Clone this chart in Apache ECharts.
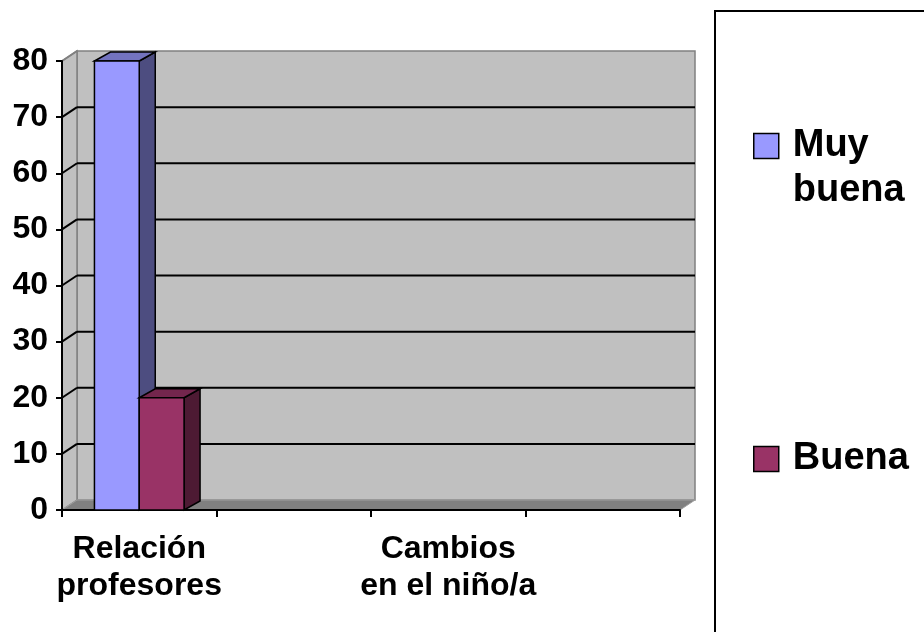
<!DOCTYPE html>
<html><head><meta charset="utf-8">
<script src="https://cdn.jsdelivr.net/npm/echarts@6/dist/echarts.min.js"></script>
<style>html,body{margin:0;padding:0;background:#fff}#c{width:924px;height:632px}</style>
</head><body><div id="c"></div>
<script>
const categories = ['Relación\nprofesores', '', 'Cambios\nen el niño/a', ' '];
const seriesNames = ['Muy buena', 'Buena'];
const muyBuena = [80, null, null, null];
const buena = [20, null, null, null];
const yTicks = [0, 10, 20, 30, 40, 50, 60, 70, 80];

const FONT = 'Liberation Sans, Arial, sans-serif';
const DX = 15, DY = -10;
const BDX = 16, BDY = -9;
const BAR_FRAC = 0.29;
const faces = [
  {front: '#9999ff', top: '#7373bf', side: '#4d4d80'},
  {front: '#993366', top: '#73264d', side: '#4d1a33'}
];

function frameRender(params, api) {
  const cs = params.coordSys;
  const x0 = cs.x, x1 = cs.x + cs.width, yb = cs.y + cs.height, yt = cs.y;
  const ch = [];
  ch.push({type: 'polygon', shape: {points: [[x0 + DX, yt + DY], [x1 + DX, yt + DY], [x1 + DX, yb + DY], [x0 + DX, yb + DY]]},
    style: {fill: '#c0c0c0', stroke: '#808080', lineWidth: 1.5}});
  ch.push({type: 'polygon', shape: {points: [[x0, yt], [x0 + DX, yt + DY], [x0 + DX, yb + DY], [x0, yb]]},
    style: {fill: '#c0c0c0', stroke: '#808080', lineWidth: 1.5}});
  yTicks.forEach(function (v) {
    if (v === 0) return;
    const y = api.coord([0, v])[1];
    const col = v === 80 ? '#808080' : '#000';
    ch.push({type: 'line', shape: {x1: x0, y1: y, x2: x0 + DX, y2: y + DY}, style: {stroke: col, lineWidth: 2}});
    if (v !== 80) ch.push({type: 'line', shape: {x1: x0 + DX, y1: y + DY, x2: x1 + DX, y2: y + DY}, style: {stroke: '#000', lineWidth: 2}});
  });
  ch.push({type: 'polygon', shape: {points: [[x0, yb], [x0 + DX, yb + DY], [x1 + DX, yb + DY], [x1, yb]]},
    style: {fill: '#808080', stroke: '#a0a0a0', lineWidth: 1}});
  return {type: 'group', children: ch};
}

function barRender(sIdx) {
  return function (params, api) {
    const v = api.value(1);
    if (v == null || isNaN(v)) return null;
    const c = api.coord([api.value(0), v]);
    const b = api.coord([api.value(0), 0]);
    const bw = api.size([1, 0])[0] * BAR_FRAC;
    const xl = sIdx === 0 ? c[0] - bw : c[0];
    const xr = xl + bw;
    const yt = c[1], yb = b[1];
    const f = faces[sIdx];
    return {type: 'group', children: [
      {type: 'polygon', shape: {points: [[xr, yt], [xr + BDX, yt + BDY], [xr + BDX, yb + BDY], [xr, yb]]}, style: {fill: f.side, stroke: '#000', lineWidth: 1.5}},
      {type: 'polygon', shape: {points: [[xl, yt], [xl + BDX, yt + BDY], [xr + BDX, yt + BDY], [xr, yt]]}, style: {fill: f.top, stroke: '#000', lineWidth: 1.5}},
      {type: 'rect', shape: {x: xl, y: yt, width: bw, height: yb - yt}, style: {fill: f.front, stroke: '#000', lineWidth: 1.5}}
    ]};
  };
}

const chart = echarts.init(document.getElementById('c'));
const legendRich = {t: {fontSize: 38, fontWeight: 'bold', color: '#000', fontFamily: FONT, lineHeight: 45, padding: [0, 0, 0, 9]}};
chart.setOption({
  animation: false,
  backgroundColor: '#fff',
  graphic: [{type: 'rect', shape: {x: 715, y: 11, width: 300, height: 700}, style: {fill: '#fff', stroke: '#000', lineWidth: 2}, z: -10}],
  legend: [
    {data: [seriesNames[0]], left: 753, top: 82, padding: 0, itemWidth: 25, itemHeight: 25, icon: 'rect',
      formatter: function () { return '{t| }\n{t|Muy}\n{t|buena}'; },
      itemStyle: {borderColor: '#000', borderWidth: 1.5},
      textStyle: {rich: legendRich}},
    {data: [seriesNames[1]], left: 753, top: 440, padding: 0, itemWidth: 25, itemHeight: 25, icon: 'rect',
      formatter: function (n) { return '{t|' + n + '}'; },
      itemStyle: {borderColor: '#000', borderWidth: 1.5},
      textStyle: {rich: legendRich}}
  ],
  grid: {left: 62, top: 61, width: 618, height: 449},
  xAxis: {
    type: 'category', data: categories,
    axisLine: {show: true, lineStyle: {color: '#000', width: 2}},
    axisTick: {show: true, length: 7, interval: 0, lineStyle: {color: '#000', width: 2}},
    axisLabel: {interval: 0, fontSize: 32, fontWeight: 'bold', color: '#000', fontFamily: FONT, lineHeight: 37, margin: 21},
    splitLine: {show: false}
  },
  yAxis: {
    type: 'value', min: 0, max: 80, interval: 10,
    axisLine: {show: true, lineStyle: {color: '#000', width: 2}},
    axisTick: {show: true, length: 6, lineStyle: {color: '#000', width: 2}},
    axisLabel: {fontSize: 32, fontWeight: 'bold', color: '#000', fontFamily: FONT, margin: 14},
    splitLine: {show: false}
  },
  series: [
    {type: 'custom', name: '__frame', z: -5, silent: true, renderItem: frameRender, data: [[0, 0]], encode: {x: 0, y: 1}},
    {type: 'custom', name: seriesNames[0], z: 3, renderItem: barRender(0), itemStyle: {color: faces[0].front},
      data: muyBuena.map(function (v, i) { return [i, v]; }), encode: {x: 0, y: 1}},
    {type: 'custom', name: seriesNames[1], z: 4, renderItem: barRender(1), itemStyle: {color: faces[1].front},
      data: buena.map(function (v, i) { return [i, v]; }), encode: {x: 0, y: 1}}
  ]
});
</script></body></html>
